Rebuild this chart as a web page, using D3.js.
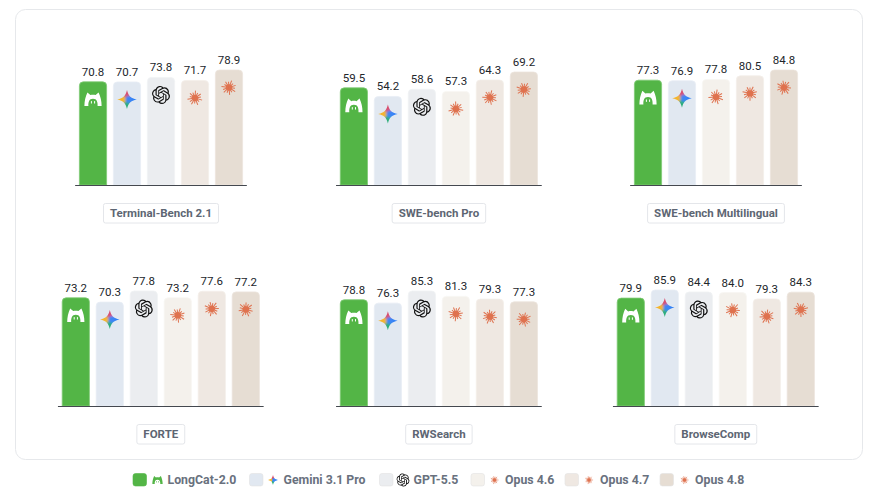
<!DOCTYPE html>
<html>
<head>
<meta charset="utf-8">
<script src="https://cdn.jsdelivr.net/npm/d3@7"></script>
<style>
  html, body { margin: 0; padding: 0; background: #fff; }
  svg { display: block; }
  text { font-family: Roboto, sans-serif; }
</style>
</head>
<body>
<svg id="chart" width="877" height="497"></svg>
<script>
const MODELS = ["LongCat-2.0", "Gemini 3.1 Pro", "GPT-5.5", "Opus 4.6", "Opus 4.7", "Opus 4.8"];
const BENCHMARKS = ["Terminal-Bench 2.1", "SWE-bench Pro", "SWE-bench Multilingual", "FORTE", "RWSearch", "BrowseComp"];

// One list per benchmark, in MODELS order. null = model not run there.
const TERMINAL_BENCH = [70.8, 70.7, 73.8, null, 71.7, 78.9];
const SWE_PRO = [59.5, 54.2, 58.6, 57.3, 64.3, 69.2];
const SWE_MULTI = [77.3, 76.9, null, 77.8, 80.5, 84.8];
const FORTE = [73.2, 70.3, 77.8, 73.2, 77.6, 77.2];
const RWSEARCH = [78.8, 76.3, 85.3, 81.3, 79.3, 77.3];
const BROWSECOMP = [79.9, 85.9, 84.4, 84.0, 79.3, 84.3];
const SERIES = [TERMINAL_BENCH, SWE_PRO, SWE_MULTI, FORTE, RWSEARCH, BROWSECOMP];

const FILLS = ["#53b546", "#e1e8f1", "#ebedf0", "#f4f1ec", "#efe8e2", "#e6ddd3"];
const EDGES = ["#7fca75", "#e9eef5", "#f0f2f4", "#f8f6f2", "#f4efea", "#ece5dd"];
const ICONS = ["cat", "gem", "gpt", "burst", "burst", "burst"];

// Panel layout: centre x, baseline y and tallest bar of each small chart.
const CENTERS = [161, 438.9, 716, 160.8, 438.9, 715.8];
const BASELINES = [185, 185, 185, 406, 406, 406];
const MAX_BARS = [115, 113, 115, 115, 115, 116];
const STEP = 34;

const svg = d3.select("#chart");
const defs = svg.append("defs");

// Gemini star: blurred colour wedges clipped to a four point star.
const STAR = "M0,-9.5 C1.4,-3.6 3.6,-1.4 9.8,0 C3.6,1.4 1.4,3.6 0,9.5 C-1.4,3.6 -3.6,1.4 -9.8,0 C-3.6,-1.4 -1.4,-3.6 0,-9.5Z";
defs.append("clipPath").attr("id", "gemClip").append("path").attr("d", STAR);
defs.append("filter").attr("id", "gemBlur")
  .attr("x", "-30%").attr("y", "-30%").attr("width", "160%").attr("height", "160%")
  .append("feGaussianBlur").attr("stdDeviation", 1.2);
const gem = defs.append("g").attr("id", "gem");
const gemWedges = gem.append("g").attr("clip-path", "url(#gemClip)").append("g").attr("filter", "url(#gemBlur)");
[
  ["M0,0L-12,-12L12,-12Z", "#d9506e"],
  ["M0,0L12,-12L12,12Z", "#2f80f6"],
  ["M0,0L12,12L-12,12Z", "#2fae7a"],
  ["M0,0L-12,12L-12,-12Z", "#f4b52e"]
].forEach(w => gemWedges.append("path").attr("d", w[0]).attr("fill", w[1]));
gemWedges.append("circle").attr("r", 3.6).attr("cx", 2).attr("fill", "#3d86f5");

// OpenAI mark.
const GPT_PATH = "M22.2819 9.8211a5.9847 5.9847 0 0 0-.5157-4.9108 6.0462 6.0462 0 0 0-6.5098-2.9A6.0651 6.0651 0 0 0 4.9807 4.1818a5.9847 5.9847 0 0 0-3.9977 2.9 6.0462 6.0462 0 0 0 .7427 7.0966 5.98 5.98 0 0 0 .511 4.9107 6.051 6.051 0 0 0 6.5146 2.9001A5.9847 5.9847 0 0 0 13.2599 24a6.0557 6.0557 0 0 0 5.7718-4.2058 5.9894 5.9894 0 0 0 3.9977-2.9001 6.0557 6.0557 0 0 0-.7475-7.0729zm-9.022 12.6081a4.4755 4.4755 0 0 1-2.8764-1.0408l.1419-.0804 4.7783-2.7582a.7948.7948 0 0 0 .3927-.6813v-6.7369l2.02 1.1686a.071.071 0 0 1 .038.052v5.5826a4.504 4.504 0 0 1-4.4945 4.4944zm-9.6607-4.1254a4.4708 4.4708 0 0 1-.5346-3.0137l.142.0852 4.783 2.7582a.7712.7712 0 0 0 .7806 0l5.8428-3.3685v2.3324a.0804.0804 0 0 1-.0332.0615L9.74 19.9502a4.4992 4.4992 0 0 1-6.1408-1.6464zM2.3408 7.8956a4.485 4.485 0 0 1 2.3655-1.9728V11.6a.7664.7664 0 0 0 .3879.6765l5.8144 3.3543-2.0201 1.1685a.0757.0757 0 0 1-.071 0l-4.8303-2.7865A4.504 4.504 0 0 1 2.3408 7.872zm16.5963 3.8558L13.1038 8.364 15.1192 7.2a.0757.0757 0 0 1 .071 0l4.8303 2.7913a4.4944 4.4944 0 0 1-.6765 8.1042v-5.6772a.79.79 0 0 0-.407-.667zm2.0107-3.0231l-.142-.0852-4.7735-2.7818a.7759.7759 0 0 0-.7854 0L9.409 9.2297V6.8974a.0662.0662 0 0 1 .0284-.0615l4.8303-2.7866a4.4992 4.4992 0 0 1 6.6802 4.66zM8.3065 12.863l-2.02-1.1638a.0804.0804 0 0 1-.038-.0567V6.0742a4.4992 4.4992 0 0 1 7.3757-3.4537l-.142.0805L8.704 5.459a.7948.7948 0 0 0-.3927.6813zm1.0976-2.3654l2.602-1.4998 2.6069 1.4998v2.9994l-2.5974 1.4997-2.6067-1.4997Z";
defs.append("g").attr("id", "gpt").append("path")
  .attr("d", GPT_PATH).attr("transform", "scale(0.75) translate(-12,-12)").attr("fill", "#111");

// Claude burst: uneven rays round a solid centre.
const RAY_LENGTHS = [7.4, 5.6, 7.2, 6.2, 7.6, 5.4, 6.8, 5.8, 7.4, 5.6, 7, 6, 7.4, 5.5];
const burst = defs.append("g").attr("id", "burst");
burst.append("circle").attr("r", 3.2).attr("fill", "#df7350");
RAY_LENGTHS.forEach((len, i) => {
  burst.append("line")
    .attr("x2", len).attr("transform", `rotate(${i * 360 / RAY_LENGTHS.length})`)
    .attr("stroke", "#df7350").attr("stroke-width", 1);
});

// LongCat mascot. Colour comes from the caller so the legend can tint it.
const cat = defs.append("g").attr("id", "cat").attr("fill", "currentColor");
cat.append("path")
  .attr("d", "M-8.6,6.8 C-8.6,2 -7.6,-2.6 -5.6,-6.8 L-2.6,-4.2 C-1,-4.6 1,-4.6 2.6,-4.2 L5.6,-6.8 C7.6,-2.6 8.6,2 8.6,6.8 L4.6,6.8 C4.9,3 4,-0.6 0,-0.6 C-4,-0.6 -4.9,3 -4.6,6.8Z");
[-1.6, 1.6].forEach(x => {
  cat.append("rect").attr("x", x - 0.5).attr("y", 1.8).attr("width", 1).attr("height", 2.4);
});

const barPath = (x, top, w, base, r) =>
  `M${x},${base}V${top + r}Q${x},${top} ${x + r},${top}H${x + w - r}Q${x + w},${top} ${x + w},${top + r}V${base}Z`;

// Outer card.
svg.append("rect")
  .attr("x", 15.5).attr("y", 9.5).attr("width", 847).attr("height", 450).attr("rx", 10)
  .attr("fill", "#fff").attr("stroke", "#e6e8eb");

SERIES.forEach((values, p) => {
  const rows = MODELS.map((name, i) => ({ i, name, value: values[i] })).filter(d => d.value !== null);
  const span = STEP * (rows.length - 0.2 + 0.25);
  const left = CENTERS[p] - span / 2;
  const base = BASELINES[p];

  const x = d3.scaleBand()
    .domain(rows.map(d => d.name))
    .range([left, left + span])
    .paddingInner(0.2)
    .paddingOuter(0.125);

  const y = d3.scaleLinear()
    .domain([0, d3.max(rows, d => d.value)])
    .range([base, base - MAX_BARS[p]]);

  const g = svg.append("g");

  g.selectAll("path.bar")
    .data(rows)
    .join("path")
    .attr("class", "bar")
    .attr("d", d => barPath(x(d.name), y(d.value), x.bandwidth(), base, 4))
    .attr("fill", d => FILLS[d.i])
    .attr("stroke", d => EDGES[d.i])
    .attr("stroke-width", 0.8);

  g.selectAll("text.value")
    .data(rows)
    .join("text")
    .attr("class", "value")
    .attr("x", d => x(d.name) + x.bandwidth() / 2)
    .attr("y", d => y(d.value) - 6)
    .attr("text-anchor", "middle")
    .attr("font-size", 11.5)
    .attr("fill", "#22262b")
    .text(d => d.value.toFixed(1));

  g.selectAll("use")
    .data(rows)
    .join("use")
    .attr("href", d => "#" + ICONS[d.i])
    .attr("color", "#fff")
    .attr("transform", d => `translate(${x(d.name) + x.bandwidth() / 2},${y(d.value) + 17.5}) rotate(${ICONS[d.i] === "burst" ? d.i * 17 + p * 11 : 0})`);

  g.append("line")
    .attr("x1", left).attr("x2", left + span)
    .attr("y1", base + 0.5).attr("y2", base + 0.5)
    .attr("stroke", "#44484f").attr("stroke-width", 1);

  // Benchmark name tag.
  const tagY = base + 28;
  const tag = g.append("g");
  const box = tag.append("rect");
  const label = tag.append("text")
    .attr("x", CENTERS[p]).attr("y", tagY)
    .attr("text-anchor", "middle")
    .attr("dominant-baseline", "central")
    .attr("font-size", 11.5).attr("font-weight", 700)
    .attr("fill", "#5d6673")
    .text(BENCHMARKS[p]);
  const w = label.node().getComputedTextLength();
  box.attr("x", CENTERS[p] - w / 2 - 6.5).attr("y", tagY - 9.5)
    .attr("width", w + 13).attr("height", 19.5).attr("rx", 2)
    .attr("fill", "#fff").attr("stroke", "#e4e6ea");
});

// Legend.
const LEGEND_X = [133, 249.5, 379.5, 471, 565, 660];
const LEGEND_ICON_X = [157.5, 273, 403, 494.5, 589, 684.5];
const LEGEND_TEXT_X = [167.5, 283.5, 413.5, 505, 600, 695];
const LEGEND_ICON_SCALE = [0.6, 0.53, 0.72, 0.55, 0.55, 0.55];
const legend = svg.append("g");

MODELS.forEach((name, i) => {
  legend.append("rect")
    .attr("x", LEGEND_X[i]).attr("y", 473.5).attr("width", 13.5).attr("height", 12.5).attr("rx", 2.5)
    .attr("fill", FILLS[i]).attr("stroke", i === 0 ? "#53b546" : "#e2e2e2").attr("stroke-width", 0.6);
  legend.append("use")
    .attr("href", "#" + ICONS[i])
    .attr("color", "#53b546")
    .attr("transform", `translate(${LEGEND_ICON_X[i]},480) scale(${LEGEND_ICON_SCALE[i]})`);
  legend.append("text")
    .attr("x", LEGEND_TEXT_X[i]).attr("y", 480)
    .attr("dominant-baseline", "central")
    .attr("font-size", 12.3).attr("font-weight", 700)
    .attr("fill", "#69717e")
    .text(name);
});
</script>
</body>
</html>
